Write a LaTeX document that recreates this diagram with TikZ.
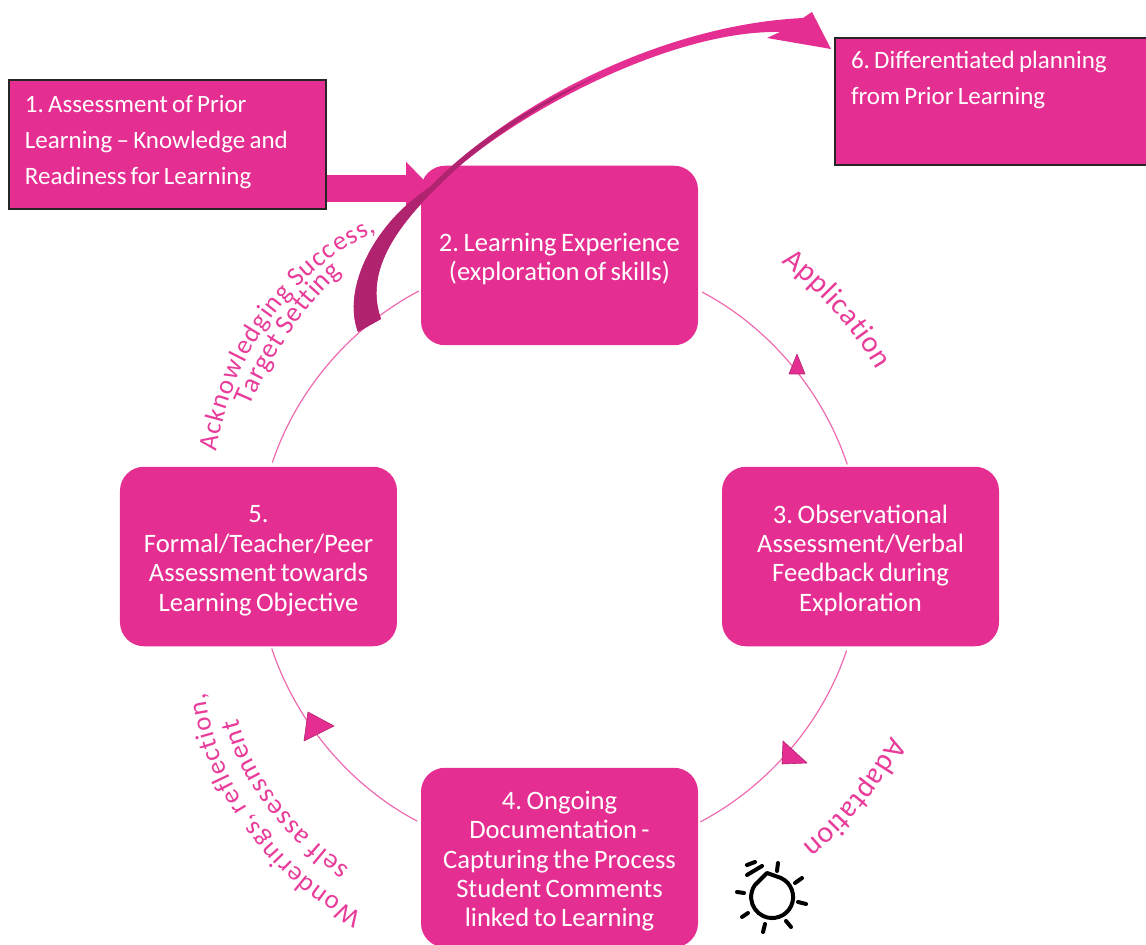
\documentclass[tikz,border=0pt]{standalone}
\usepackage{fontspec}
\setmainfont[WordSpace=0.75]{Carlito}
\usetikzlibrary{positioning,arrows.meta,decorations.text}
\frenchspacing

\definecolor{mainpink}{HTML}{E52E91}
\definecolor{darkpink}{HTML}{B0246F}
\definecolor{ringpink}{HTML}{EE6AAE}
\definecolor{labelpink}{HTML}{E83C9A}

\newcommand{\curvefont}[1]{\color{labelpink}\fontsize{#1}{#1}\selectfont}
\newcommand{\firstgap}{\rule{0pt}{12.8pt}}

\tikzset{
  main node/.style={rectangle,rounded corners=12pt,fill=mainpink,text=white,
    minimum width=138.5pt,minimum height=89.75pt,align=center,inner sep=0pt,
    font=\fontsize{13.3}{14.7}\selectfont},
  side node/.style={rectangle,fill=mainpink,draw=black!85,line width=0.6pt,text=white,
    align=flush left,inner xsep=8pt,inner ysep=0pt,font=\fontsize{12.5}{17.9}\selectfont},
  ring line/.style={draw=ringpink,line width=0.6pt,shorten <=2pt,shorten >=1pt},
  ring head/.style={fill=mainpink,draw=darkpink,line width=0.3pt,line join=round},
  bulb line/.style={draw=black,line width=2pt,line cap=round,line join=round},
  curve label/.style 2 args={decorate,decoration={text along path,text align={fit to path},
    text={|\curvefont{#1}|#2}}}
}

\begin{document}
\begin{tikzpicture}[x=0.5pt,y=-0.5pt,node distance=212.85pt]
  \useasboundingbox (0,0) rectangle (1146,945);

  \coordinate (ctr) at (559.5,556.5);
  \coordinate (entry) at (432,188.5);

  \node[main node] (n2) at (559.5,255.5) {\firstgap 2. Learning Experience\\(exploration of skills)};
  \node[main node] (n3) [below right of=n2] {\firstgap 3. Observational\\Assessment/Verbal\\Feedback during\\Exploration};
  \node[main node] (n4) [below left of=n3] {\firstgap 4. Ongoing\\Documentation -\\Capturing the Process\\Student Comments\\linked to Learning};
  \node[main node] (n5) [below left of=n2] {\firstgap 5.\\Formal/Teacher/Peer\\Assessment towards\\Learning Objective};

  \node[side node,text width=142.5pt,minimum height=64.5pt] (n1) at (167.5,144.5)
    {1. Assessment of Prior\\Learning -- Knowledge and\\Readiness for Learning\rule[-4.5pt]{0pt}{1pt}};
  \node[side node,text width=141.5pt,minimum height=63.5pt] (n6) at (992.5,101.5)
    {6. Differentiated planning\\from Prior Learning\\[5.5pt]\mbox{}};

  % ring
  \draw[ring line] (n2.-14) to[bend left=22,looseness=0.88] (n3.98);
  \draw[ring line] (n3.-98) to[bend left=22,looseness=0.88] (n4.14);
  \draw[ring line] (n4.166) to[bend left=22,looseness=0.88] (n5.-82);
  \draw[ring line] (n5.82) to[bend left=22,looseness=0.88] (n2.194);

  % small heads on the ring
  \filldraw[ring head] (797,354) -- (805,374) -- (789,374) -- cycle;
  \filldraw[ring head] (783,741) -- (807,763) -- (782,764) -- cycle;
  \filldraw[ring head] (308,712) -- (334,726) -- (304,741) -- cycle;

  % entry arrow
  \draw[mainpink,line width=13.5pt,-{Triangle[length=13pt,width=26pt]}] (n1.east |- entry) -- (entry);

  % long curved arrow
  \fill[mainpink] (358,332) .. controls (342,290) and (372,225) .. (430,187)
    .. controls (510,105) and (660,25) .. (803,18) -- (812,12) -- (831,49) -- (767,38) -- (780,32)
    .. controls (680,30) and (540,100) .. (463,163)
    .. controls (405,215) and (362,265) .. (381,319) -- cycle;
  \fill[darkpink] (358,332) .. controls (342,290) and (372,225) .. (430,187)
    .. controls (470,145) and (530,105) .. (600,75)
    .. controls (550,100) and (505,128) .. (463,163)
    .. controls (405,215) and (362,265) .. (381,319) -- cycle;

  % labels along the ring
  \path[curve label={15}{Application}] (ctr) ++(-53:368) arc[start angle=-53,end angle=-30.5,radius=368];
  \path[curve label={15}{Adaptation}] (ctr) ++(28.5:378) arc[start angle=28.5,end angle=50,radius=378];
  \path[curve label={13.4}{Wonderings, reflection,}] (363,913) .. controls (295,880) and (218,800) .. (205,693);
  \path[curve label={13.8}{self assessment}] (350,868) .. controls (310,840) and (255,790) .. (238,718);
  \path[curve label={13.4}{Acknowledging Success,}] (217,452) .. controls (228,365) and (290,268) .. (377,232);
  \path[curve label={13.8}{Target Setting}] (250,407) .. controls (270,360) and (300,310) .. (342,273);

  % bulb
  \draw[bulb line] (755,885) -- (767,873) -- (781,878) arc[start angle=-65,end angle=215,radius=21];
  \draw[bulb line] (747,875) -- (762,866);
  \draw[bulb line] (747,865) -- (755,862);
  \draw[bulb line] (778,863) -- (777,871);
  \draw[bulb line] (802,878) -- (795,883);
  \draw[bulb line] (806,904) -- (798,902);
  \draw[bulb line] (791,927) -- (786,921);
  \draw[bulb line] (763,932) -- (765,924);
  \draw[bulb line] (742,917) -- (748,913);
  \draw[bulb line] (737,892) -- (744,893);
\end{tikzpicture}
\end{document}
